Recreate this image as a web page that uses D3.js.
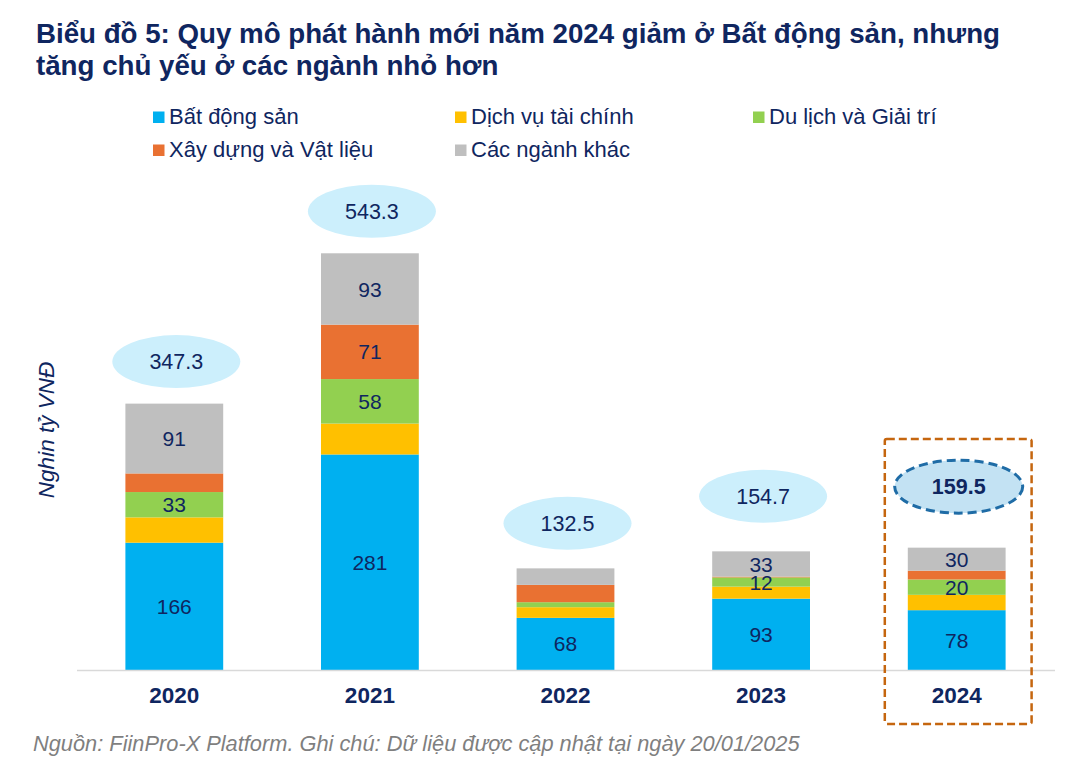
<!DOCTYPE html>
<html><head><meta charset="utf-8">
<script src="https://cdn.jsdelivr.net/npm/d3@7"></script>
<style>
html,body{margin:0;padding:0;background:#fff;}
svg{display:block;font-family:"Liberation Sans",Arial,sans-serif;}
</style></head>
<body>
<svg id="chart" width="1069" height="765"></svg>
<script>
// ---- Data ----
const years = ["2020", "2021", "2022", "2023", "2024"];
const seriesNames = ["Bất động sản", "Dịch vụ tài chính", "Du lịch và Giải trí", "Xây dựng và Vật liệu", "Các ngành khác"];
const batDongSan   = [166, 281, 68, 93, 78];
const dichVuTaiChinh = [33, 40.3, 13.9, 15.7, 20];
const duLichGiaiTri  = [33, 58, 6.5, 12, 20];
const xayDungVatLieu = [24.3, 71, 22.6, 1, 11.5];
const cacNganhKhac   = [91, 93, 21.5, 33, 30];
// which segment values are printed on the bars
const labelBDS = [true, true, true, true, true];
const labelDV  = [false, false, false, false, false];
const labelDL  = [true, true, false, true, true];
const labelXD  = [false, true, false, false, false];
const labelKhac = [true, true, false, true, true];
const titleLines = ["Biểu đồ 5: Quy mô phát hành mới năm 2024 giảm ở Bất động sản, nhưng", "tăng chủ yếu ở các ngành nhỏ hơn"];
const yAxisTitle = "Nghin tỷ VNĐ";
const sourceNote = "Nguồn: FiinPro-X Platform. Ghi chú: Dữ liệu được cập nhật tại ngày 20/01/2025";
const highlightYear = "2024";

// ---- Style / layout ----
const colors = ["#00B0F0", "#FFC000", "#92D050", "#E97132", "#BFBFBF"];
const navy = "#0F2660";
const bubbleLift = [42, 42, 45, 55, 61];

const seriesValues = [batDongSan, dichVuTaiChinh, duLichGiaiTri, xayDungVatLieu, cacNganhKhac];
const seriesLabels = [labelBDS, labelDV, labelDL, labelXD, labelKhac];
const table = years.map((y, i) => {
  const row = {year: y};
  seriesNames.forEach((s, j) => row[s] = seriesValues[j][i]);
  return row;
});
const totals = years.map((y, i) => d3.sum(seriesValues, s => s[i]));

const svg = d3.select("#chart");
const x = d3.scaleBand().domain(years).range([76.5, 1054.5]).paddingInner(0.5).paddingOuter(0.25);
const y = d3.scaleLinear().domain([0, 600]).range([670, 209.8]);

// Title
svg.append("g").selectAll("text").data(titleLines).join("text")
  .attr("x", 36).attr("y", (d, i) => 42.5 + i * 32.5)
  .attr("font-size", 27.7).attr("font-weight", "bold").attr("fill", navy)
  .text(d => d);

// Legend
const legendPos = [[153, 124], [455, 124], [753, 124], [153, 157], [455, 157]];
const lg = svg.append("g").selectAll("g").data(seriesNames).join("g")
  .attr("transform", (d, i) => `translate(${legendPos[i][0]},${legendPos[i][1]})`);
lg.append("rect").attr("x", 0).attr("y", -12.5).attr("width", 11.5).attr("height", 11.5)
  .attr("fill", (d, i) => colors[i]);
lg.append("text").attr("x", 16).attr("y", 0).attr("font-size", 22).attr("fill", navy).text(d => d);

// Stacked bars
const stack = d3.stack().keys(seriesNames)(table);
const layers = svg.append("g").selectAll("g").data(stack).join("g")
  .attr("fill", (d, i) => colors[i]);
layers.selectAll("rect").data(d => d).join("rect")
  .attr("x", d => x(d.data.year)).attr("width", x.bandwidth())
  .attr("y", d => y(d[1])).attr("height", d => y(d[0]) - y(d[1]));

// Segment labels
stack.forEach((layer, j) => {
  svg.append("g").selectAll("text").data(layer.filter((d, i) => seriesLabels[j][i])).join("text")
    .attr("x", d => x(d.data.year) + x.bandwidth() / 2)
    .attr("y", d => (y(d[0]) + y(d[1])) / 2)
    .attr("dy", "0.36em")
    .attr("text-anchor", "middle").attr("font-size", 21).attr("fill", navy)
    .text(d => d3.format(".0f")(d[1] - d[0]));
});

// Axis baseline
const xAxis = svg.append("g").attr("transform", `translate(0,${y(0)})`)
  .call(d3.axisBottom(x).tickSize(0).tickPadding(17));
xAxis.select(".domain").attr("stroke", "#D9D9D9").attr("stroke-width", 1.5);
xAxis.selectAll("text").attr("font-size", 22.5).attr("font-weight", "bold").attr("fill", navy)
  .attr("font-family", "Liberation Sans, Arial, sans-serif").attr("dy", "0.71em");

// Total bubbles
const bub = svg.append("g").selectAll("g").data(years).join("g")
  .attr("transform", (d, i) => `translate(${x(d) + x.bandwidth() / 2 + 2},${y(totals[i]) - bubbleLift[i]})`);
bub.append("ellipse").attr("rx", 64).attr("ry", 26.5)
  .attr("fill", d => d === highlightYear ? "#C3E2F3" : "#CCEFFC")
  .attr("stroke", d => d === highlightYear ? "#1F6CA6" : "none")
  .attr("stroke-width", 3).attr("stroke-dasharray", "9,5");
bub.append("text").attr("text-anchor", "middle").attr("dy", "0.36em")
  .attr("font-size", 21.5).attr("fill", navy)
  .attr("font-weight", d => d === highlightYear ? "bold" : "normal")
  .text((d, i) => d3.format(".1f")(totals[i]));

// Highlight box around 2024
const hx = x(highlightYear);
svg.append("rect")
  .attr("x", hx - 23).attr("y", 439).attr("width", x.bandwidth() + 49).attr("height", 285)
  .attr("rx", 2).attr("fill", "none").attr("stroke", "#C5660F").attr("stroke-width", 2.5)
  .attr("stroke-dasharray", "8,4");

// Y axis title
svg.append("text").attr("transform", "translate(54,430) rotate(-90)")
  .attr("text-anchor", "middle").attr("font-size", 22.5).attr("font-style", "italic")
  .attr("fill", navy).text(yAxisTitle);

// Source
svg.append("text").attr("x", 33).attr("y", 751).attr("font-size", 21.8)
  .attr("font-style", "italic").attr("fill", "#7F7F7F").text(sourceNote);
</script>
</body></html>
